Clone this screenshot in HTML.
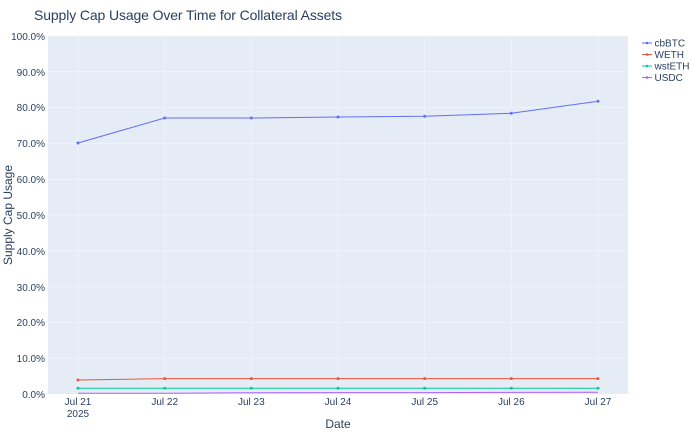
<!DOCTYPE html><html><head><style>body{margin:0;background:#fff}text{font-family:"Liberation Sans",sans-serif}</style></head><body>
<svg width="690" height="431" xmlns="http://www.w3.org/2000/svg">
<text x="34" y="20" font-size="14" fill="#2a3f5f" textLength="308">Supply Cap Usage Over Time for Collateral Assets</text>
<rect x="48" y="36" width="580" height="358" fill="#e5ecf6"/>
<g stroke="#f3f6fb" stroke-width="0.8">
<line x1="48" x2="628" y1="36" y2="36"/><line x1="48" x2="628" y1="71.8" y2="71.8"/><line x1="48" x2="628" y1="107.6" y2="107.6"/><line x1="48" x2="628" y1="143.4" y2="143.4"/><line x1="48" x2="628" y1="179.2" y2="179.2"/><line x1="48" x2="628" y1="215" y2="215"/><line x1="48" x2="628" y1="250.8" y2="250.8"/><line x1="48" x2="628" y1="286.6" y2="286.6"/><line x1="48" x2="628" y1="322.4" y2="322.4"/><line x1="48" x2="628" y1="358.2" y2="358.2"/>
<line x1="78" x2="78" y1="36" y2="394"/><line x1="164.7" x2="164.7" y1="36" y2="394"/><line x1="251.3" x2="251.3" y1="36" y2="394"/><line x1="338" x2="338" y1="36" y2="394"/><line x1="424.7" x2="424.7" y1="36" y2="394"/><line x1="511.3" x2="511.3" y1="36" y2="394"/><line x1="598" x2="598" y1="36" y2="394"/>
</g>
<g font-size="10" fill="#2a3f5f" text-anchor="end">
<text x="45" y="398">0.0%</text><text x="45" y="362">10.0%</text><text x="45" y="326">20.0%</text><text x="45" y="291">30.0%</text><text x="45" y="255">40.0%</text><text x="45" y="219">50.0%</text><text x="45" y="183">60.0%</text><text x="45" y="147">70.0%</text><text x="45" y="111">80.0%</text><text x="45" y="76">90.0%</text><text x="45" y="40">100.0%</text>
</g>
<g font-size="10" fill="#2a3f5f" text-anchor="middle">
<text x="78" y="405">Jul 21</text><text x="78" y="417">2025</text><text x="164.7" y="405">Jul 22</text><text x="251.3" y="405">Jul 23</text><text x="338" y="405">Jul 24</text><text x="424.7" y="405">Jul 25</text><text x="511.3" y="405">Jul 26</text><text x="598" y="405">Jul 27</text>
</g>
<text x="338" y="428" font-size="12" fill="#2a3f5f" text-anchor="middle">Date</text>
<text transform="translate(12,215) rotate(-90)" font-size="12" fill="#2a3f5f" text-anchor="middle">Supply Cap Usage</text>
<g fill="none" stroke-width="1">
<polyline stroke="#636efa" points="78,143 164.7,118 251.3,118 338,117 424.7,116.2 511.3,113.3 598,101.2"/>
<polyline stroke="#ef553b" points="78,380 164.7,378.6 251.3,378.6 338,378.6 424.7,378.6 511.3,378.6 598,378.6"/>
<polyline stroke="#00cc96" points="78,388.3 164.7,388.3 251.3,388.3 338,388.3 424.7,388.3 511.3,388.3 598,388.3"/>
<polyline stroke="#ab63fa" points="78,393.3 164.7,393.3 251.3,392.8 338,392.6 424.7,392.6 511.3,392.4 598,392.2"/>
</g>
<g fill="#636efa"><circle cx="78" cy="143" r="1.5"/><circle cx="164.7" cy="118" r="1.5"/><circle cx="251.3" cy="118" r="1.5"/><circle cx="338" cy="117" r="1.5"/><circle cx="424.7" cy="116.2" r="1.5"/><circle cx="511.3" cy="113.3" r="1.5"/><circle cx="598" cy="101.2" r="1.5"/></g>
<g fill="#ef553b"><circle cx="78" cy="380" r="1.5"/><circle cx="164.7" cy="378.6" r="1.5"/><circle cx="251.3" cy="378.6" r="1.5"/><circle cx="338" cy="378.6" r="1.5"/><circle cx="424.7" cy="378.6" r="1.5"/><circle cx="511.3" cy="378.6" r="1.5"/><circle cx="598" cy="378.6" r="1.5"/></g>
<g fill="#00cc96"><circle cx="78" cy="388.3" r="1.5"/><circle cx="164.7" cy="388.3" r="1.5"/><circle cx="251.3" cy="388.3" r="1.5"/><circle cx="338" cy="388.3" r="1.5"/><circle cx="424.7" cy="388.3" r="1.5"/><circle cx="511.3" cy="388.3" r="1.5"/><circle cx="598" cy="388.3" r="1.5"/></g>
<g font-size="10" fill="#2a3f5f">
<line x1="642" x2="652" y1="43" y2="43" stroke="#636efa"/><circle cx="647" cy="43" r="1.3" fill="#636efa"/><text x="654.5" y="46.5">cbBTC</text>
<line x1="642" x2="652" y1="54.5" y2="54.5" stroke="#ef553b"/><circle cx="647" cy="54.5" r="1.3" fill="#ef553b"/><text x="654.5" y="58">WETH</text>
<line x1="642" x2="652" y1="66" y2="66" stroke="#00cc96"/><circle cx="647" cy="66" r="1.3" fill="#00cc96"/><text x="654.5" y="69.5">wstETH</text>
<line x1="642" x2="652" y1="77.5" y2="77.5" stroke="#ab63fa"/><circle cx="647" cy="77.5" r="1.3" fill="#ab63fa"/><text x="654.5" y="81">USDC</text>
</g>
</svg></body></html>
